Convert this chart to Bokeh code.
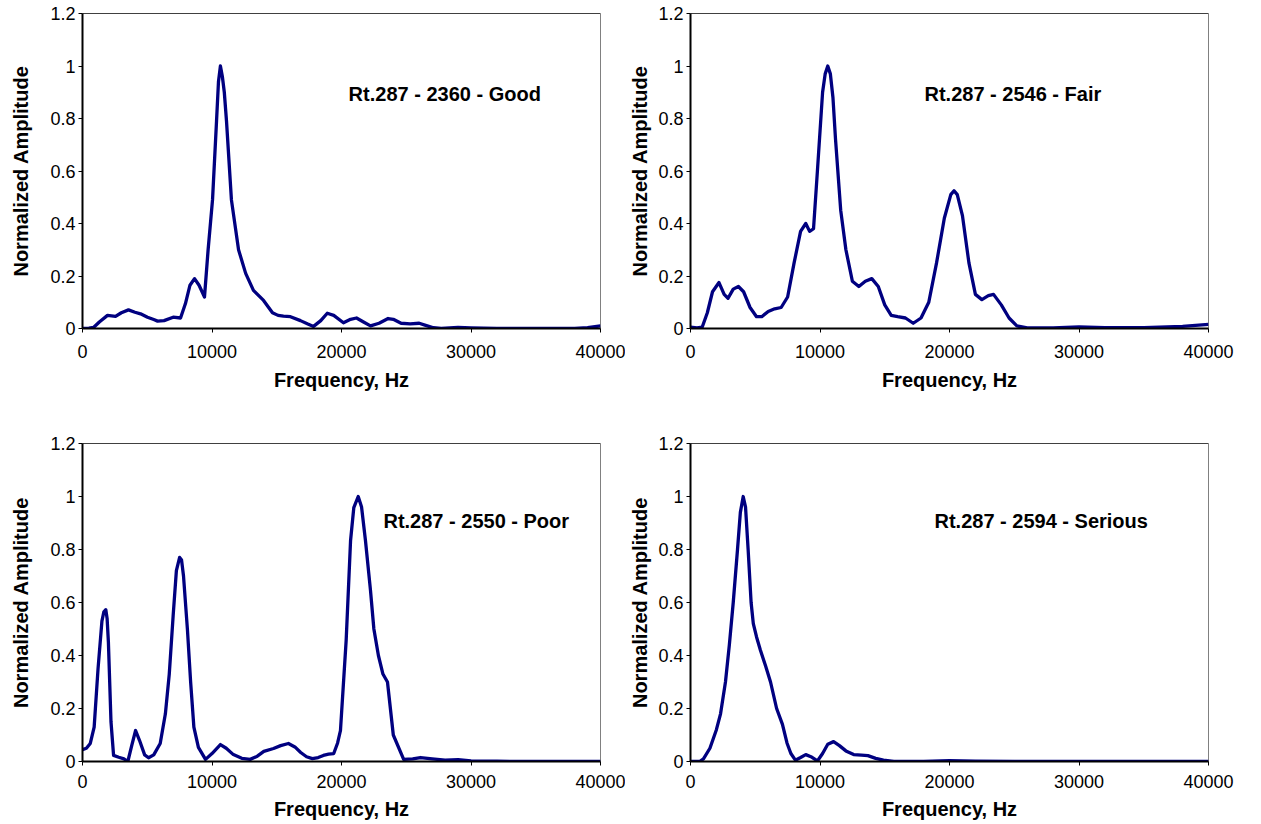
from bokeh.plotting import figure
from bokeh.layouts import column, row
from bokeh.models import Range1d, FixedTicker, NumeralTickFormatter, BasicTickFormatter, Label, Span
from bokeh.embed import file_html
from bokeh.resources import INLINE

FREQ_TICKS = [0, 10000, 20000, 30000, 40000]
AMP_TICKS = [0, 0.2, 0.4, 0.6, 0.8, 1.0, 1.2]
X_LABEL = "Frequency, Hz"
Y_LABEL = "Normalized Amplitude"

titles = ["Rt.287 - 2360 - Good", "Rt.287 - 2546 - Fair",
          "Rt.287 - 2550 - Poor", "Rt.287 - 2594 - Serious"]

good_f = [0, 500, 850, 1300, 1930, 2550, 3000, 3550, 4050, 4480, 5020, 5500, 5800, 6300,
          7000, 7570, 7950, 8300, 8650, 9000, 9420, 9700, 10040, 10350, 10500, 10650, 10800,
          10950, 11120, 11500, 12050, 12600, 13200, 13980, 14670, 15100, 15520, 16060, 16830,
          17400, 17840, 18400, 18900, 19400, 20150, 20700, 21160, 21700, 22240, 22900, 23600,
          24000, 24600, 25300, 26000, 26500, 27100, 27700, 29000, 30000, 32000, 35000, 38000,
          39000, 40000]
good_a = [0, 0.001, 0.004, 0.025, 0.05, 0.046, 0.06, 0.071, 0.062, 0.056, 0.043, 0.034, 0.028, 0.03,
          0.043, 0.04, 0.095, 0.165, 0.19, 0.165, 0.12, 0.3, 0.49, 0.79, 0.94, 1.0, 0.96,
          0.9, 0.79, 0.49, 0.3, 0.21, 0.145, 0.107, 0.06, 0.05, 0.047, 0.045, 0.03,
          0.017, 0.008, 0.03, 0.058, 0.05, 0.022, 0.035, 0.04, 0.025, 0.01, 0.02, 0.038,
          0.035, 0.02, 0.018, 0.02, 0.012, 0.003, 0.0, 0.004, 0.002, 0.0, 0.0, 0.0,
          0.003, 0.01]

fair_f = [0, 500, 900, 1300, 1700, 2200, 2600, 2900, 3300, 3700, 4100, 4600, 5100, 5500,
          6000, 6500, 7000, 7500, 8000, 8500, 8900, 9200, 9500, 9800, 10200, 10400, 10600,
          10800, 11000, 11200, 11600, 12000, 12500, 13000, 13500, 14000, 14500, 15000, 15500,
          16000, 16600, 17200, 17800, 18400, 19000, 19600, 20100, 20350, 20600, 21000, 21500,
          22000, 22500, 23000, 23400, 24000, 24600, 25200, 26000, 28000, 30000, 32000, 35000,
          38000, 40000]
fair_a = [0.005, 0.002, 0.005, 0.06, 0.14, 0.175, 0.13, 0.115, 0.15, 0.16, 0.14, 0.08, 0.045, 0.045,
          0.065, 0.075, 0.08, 0.12, 0.25, 0.37, 0.4, 0.37, 0.38, 0.6, 0.9, 0.97, 1.0,
          0.97, 0.88, 0.72, 0.45, 0.3, 0.18, 0.16, 0.18, 0.19, 0.16, 0.09, 0.05,
          0.045, 0.04, 0.02, 0.04, 0.1, 0.25, 0.42, 0.51, 0.525, 0.51, 0.43, 0.25,
          0.13, 0.11, 0.125, 0.13, 0.09, 0.04, 0.01, 0.002, 0.002, 0.006, 0.003, 0.003,
          0.008, 0.016]

poor_f = [0, 300, 600, 900, 1200, 1500, 1650, 1800, 1900, 2000, 2200, 2400, 2800, 3200, 3500,
          3800, 4100, 4400, 4800, 5100, 5500, 6000, 6400, 6700, 7000, 7250, 7500, 7650, 7800,
          8100, 8350, 8600, 8950, 9500, 10000, 10650, 11100, 11650, 12300, 12950, 13500, 14000,
          14750, 15300, 15900, 16400, 16850, 17300, 17750, 18200, 18600, 19000, 19400, 19700,
          19920, 20360, 20700, 20950, 21290, 21550, 21850, 22240, 22500, 22850, 23200, 23550,
          24000, 24800, 25500, 26100, 27000, 28000, 29000, 30000, 32000, 35000, 40000]
poor_a = [0.045, 0.05, 0.068, 0.13, 0.35, 0.53, 0.565, 0.573, 0.54, 0.45, 0.15, 0.023, 0.016, 0.01, 0.0,
          0.06, 0.117, 0.08, 0.025, 0.014, 0.025, 0.068, 0.18, 0.33, 0.55, 0.72, 0.77, 0.76, 0.7,
          0.5, 0.3, 0.13, 0.053, 0.008, 0.03, 0.064, 0.05, 0.026, 0.012, 0.008, 0.02, 0.038,
          0.049, 0.06, 0.068, 0.055, 0.034, 0.018, 0.011, 0.015, 0.023, 0.028, 0.03, 0.07,
          0.117, 0.457, 0.834, 0.958, 1.0, 0.96, 0.834, 0.645, 0.5, 0.4, 0.33, 0.3,
          0.1, 0.008, 0.01, 0.015, 0.01, 0.005, 0.007, 0.002, 0.001, 0.0, 0.0]

serious_f = [0, 700, 1000, 1500, 2000, 2320, 2700, 3000, 3300, 3630, 3850, 4070, 4250, 4450,
             4680, 4850, 5100, 5400, 5800, 6180, 6650, 7100, 7450, 7750, 8100, 8500, 8900,
             9300, 9800, 10200, 10600, 11050, 11500, 12000, 12600, 13200, 13700, 14300, 14900,
             15700, 18000, 20000, 22000, 25000, 40000]
serious_a = [0, 0.0, 0.01, 0.05, 0.12, 0.18, 0.3, 0.44, 0.6, 0.8, 0.94, 1.0, 0.96, 0.8,
             0.6, 0.52, 0.47, 0.42, 0.36, 0.3, 0.2, 0.14, 0.07, 0.03, 0.005, 0.015, 0.026,
             0.018, 0.002, 0.03, 0.065, 0.075, 0.06, 0.04, 0.026, 0.024, 0.022, 0.012, 0.005,
             0.0, 0.0, 0.003, 0.001, 0.0, 0.0]

FONT = "Liberation Sans"


def make_panel(f, a, title, tx, ty, *, width, height, bl, br, bt, bb,
               ylab_standoff, xlab_tick_standoff, xlab_standoff):
    p = figure(width=width, height=height, output_backend="svg", toolbar_location=None,
               x_range=Range1d(0, 40000), y_range=Range1d(0, 1.2),
               min_border_left=bl, min_border_right=br, min_border_top=bt, min_border_bottom=bb,
               background_fill_color="white", border_fill_color="white")
    p.grid.visible = False
    p.outline_line_color = "#808080"
    p.outline_line_width = 1

    p.line(f, a, line_color="#000080", line_width=3.3, line_join="round")

    p.add_layout(Span(location=1.2, dimension="width", line_color="black", line_width=1))

    p.xaxis.ticker = FixedTicker(ticks=FREQ_TICKS)
    p.xaxis.formatter = BasicTickFormatter(use_scientific=False)
    p.yaxis.ticker = FixedTicker(ticks=AMP_TICKS)
    p.yaxis.formatter = NumeralTickFormatter(format="0.[0]")
    for ax in (p.xaxis, p.yaxis):
        ax.axis_line_color = "black"
        ax.axis_line_width = 2
        ax.major_tick_line_color = "black"
        ax.major_tick_line_width = 1
        ax.major_tick_out = 4
        ax.major_tick_in = 0
        ax.minor_tick_line_color = None
        ax.major_label_text_font = FONT
        ax.major_label_text_font_size = "18px"
        ax.major_label_text_color = "black"
        ax.axis_label_text_font = FONT
        ax.axis_label_text_font_size = "20px"
        ax.axis_label_text_font_style = "bold"
        ax.axis_label_text_color = "black"
    p.xaxis.axis_label = X_LABEL
    p.yaxis.axis_label = Y_LABEL
    p.yaxis.major_label_standoff = 3
    p.yaxis.axis_label_standoff = ylab_standoff
    p.xaxis.major_label_standoff = xlab_tick_standoff
    p.xaxis.axis_label_standoff = xlab_standoff

    p.add_layout(Label(x=tx, y=ty, text=title, text_font=FONT, text_font_size="20px",
                       text_font_style="bold", text_color="black",
                       text_align="left", text_baseline="middle"))
    return p


top = dict(height=423, bt=13, bb=95, xlab_tick_standoff=12, xlab_standoff=8)
bot = dict(height=401, bt=20, bb=63, xlab_tick_standoff=9, xlab_standoff=7)
left = dict(width=625, bl=82, br=25, ylab_standoff=15)
right = dict(width=610, bl=65, br=27, ylab_standoff=4)

p1 = make_panel(good_f, good_a, titles[0], 20550, 0.895, **top, **left)
p2 = make_panel(fair_f, fair_a, titles[1], 18070, 0.895, **top, **right)
p3 = make_panel(poor_f, poor_a, titles[2], 23240, 0.909, **bot, **left)
p4 = make_panel(serious_f, serious_a, titles[3], 18840, 0.909, **bot, **right)

layout = column(row(p1, p2), row(p3, p4))

open("out.html", "w").write(file_html(layout, INLINE))
